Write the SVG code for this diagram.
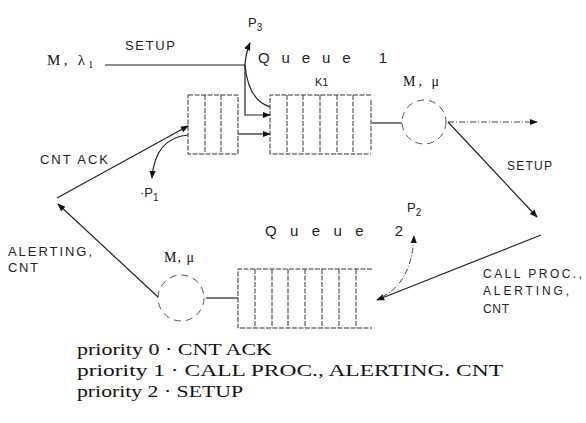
<svg xmlns="http://www.w3.org/2000/svg" width="586" height="423" viewBox="0 0 586 423">
<style>
.s{font-family:"Liberation Sans",Arial,sans-serif;fill:#222}
.r{font-family:"Liberation Serif","Times New Roman",serif;fill:#111}
.ln{stroke:#222;stroke-width:1.2;fill:none}
.dl{stroke:#444;stroke-width:1;fill:none;stroke-dasharray:6 2 1 2}
.q{stroke:#333;stroke-width:1;fill:none;stroke-dasharray:5 1.5}
.c{stroke:#555;stroke-width:1;fill:none;stroke-dasharray:7 5}
</style>
<defs>
<marker id="ah" viewBox="0 0 10 10" refX="9" refY="5" markerWidth="8" markerHeight="8" markerUnits="userSpaceOnUse" orient="auto">
<path d="M0,1 L10,5 L0,9 Z" fill="#111"/>
</marker>
</defs>

<g id="queue1a">
<rect class="q" x="188" y="95" width="50" height="59"/>
<line class="q" x1="205" y1="95" x2="205" y2="154"/>
<line class="q" x1="221" y1="95" x2="221" y2="154"/>
</g>

<g id="queue1">
<path class="q" d="M371,95 H270 V154 H371"/>
<line class="q" x1="371" y1="100" x2="371" y2="150"/>
<line class="q" x1="287" y1="95" x2="287" y2="154"/>
<line class="q" x1="303" y1="95" x2="303" y2="154"/>
<line class="q" x1="320" y1="95" x2="320" y2="154"/>
<line class="q" x1="337" y1="95" x2="337" y2="154"/>
<line class="q" x1="353" y1="95" x2="353" y2="154"/>
<text class="s" x="315" y="86" font-size="11">K1</text>
<text class="s" x="258" y="63" font-size="15" textLength="129" lengthAdjust="spacing">Queue 1</text>
</g>

<g id="server1">
<circle class="c" cx="424" cy="122" r="22"/>
<text class="r" x="403" y="86" font-size="14" textLength="36" lengthAdjust="spacing">M, μ</text>
</g>

<g id="queue2">
<path class="q" d="M372,269 H238 V328 H372"/>
<line class="q" x1="255" y1="269" x2="255" y2="328"/>
<line class="q" x1="272" y1="269" x2="272" y2="328"/>
<line class="q" x1="288" y1="269" x2="288" y2="328"/>
<line class="q" x1="305" y1="269" x2="305" y2="328"/>
<line class="q" x1="322" y1="269" x2="322" y2="328"/>
<line class="q" x1="339" y1="269" x2="339" y2="328"/>
<line class="q" x1="356" y1="269" x2="356" y2="328"/>
<text class="s" x="265" y="236" font-size="15" textLength="138" lengthAdjust="spacing">Queue 2</text>
</g>

<g id="server2">
<circle class="c" cx="181" cy="298" r="23"/>
<text class="r" x="164" y="262" font-size="14" textLength="30" lengthAdjust="spacing">M, μ</text>
</g>

<g id="source">
<text class="r" x="47" y="65" font-size="15"><tspan textLength="38" lengthAdjust="spacing">M, λ</tspan><tspan font-size="10" dy="3">1</tspan></text>
</g>

<g id="connectors">
<line class="ln" x1="105" y1="65" x2="245" y2="65"/>
<path class="ln" d="M245,65 Q246,52 250,43" marker-end="url(#ah)"/>
<path class="ln" d="M245,65 Q248,100 270,107"/>
<path class="ln" d="M245,65 V115 H270" marker-end="url(#ah)"/>
<line class="ln" x1="238" y1="134" x2="270" y2="134" marker-end="url(#ah)"/>
<line class="ln" x1="57" y1="198" x2="188" y2="126" marker-end="url(#ah)"/>
<path class="ln" d="M188,135 Q155,138 152,178" marker-end="url(#ah)"/>
<line class="ln" x1="372" y1="123" x2="402" y2="123"/>
<line class="dl" x1="448" y1="122" x2="537" y2="122" marker-end="url(#ah)"/>
<line class="ln" x1="448" y1="122" x2="537" y2="217" stroke-width="0.9" marker-end="url(#ah)"/>
<line class="ln" x1="541" y1="235" x2="377" y2="300" marker-end="url(#ah)"/>
<path class="dl" d="M382,297 Q412,282 414,236" marker-end="url(#ah)"/>
<line class="ln" x1="206" y1="298" x2="238" y2="298"/>
<line class="ln" x1="158" y1="297" x2="58" y2="204" marker-end="url(#ah)"/>
</g>

<g id="labels">
<text class="s" x="125" y="50" font-size="13" textLength="50" lengthAdjust="spacing">SETUP</text>
<text class="s" x="248" y="27" font-size="13">P<tspan font-size="10" dy="4">3</tspan></text>
<text class="s" x="140" y="197" font-size="13">·P<tspan font-size="10" dy="4">1</tspan></text>
<text class="s" x="407" y="212" font-size="13">P<tspan font-size="10" dy="4">2</tspan></text>
<text class="s" x="40" y="164" font-size="13" textLength="68" lengthAdjust="spacing">CNT ACK</text>
<text class="s" x="8" y="256" font-size="13" textLength="84" lengthAdjust="spacing">ALERTING,</text>
<text class="s" x="8" y="272" font-size="13" textLength="30" lengthAdjust="spacing">CNT</text>
<text class="s" x="507" y="170" font-size="12" textLength="45" lengthAdjust="spacing">SETUP</text>
<text class="s" x="483" y="278" font-size="12" textLength="99" lengthAdjust="spacing">CALL PROC.,</text>
<text class="s" x="483" y="295" font-size="12" textLength="86" lengthAdjust="spacing">ALERTING,</text>
<text class="s" x="483" y="313" font-size="12" textLength="26" lengthAdjust="spacing">CNT</text>
</g>

<g id="legend">
<text class="r" x="77" y="355" font-size="17" textLength="195" lengthAdjust="spacingAndGlyphs">priority 0 · CNT ACK</text>
<text class="r" x="77" y="376" font-size="17" textLength="426" lengthAdjust="spacingAndGlyphs">priority 1 · CALL PROC.,  ALERTING. CNT</text>
<text class="r" x="77" y="397" font-size="17" textLength="166" lengthAdjust="spacingAndGlyphs">priority 2 · SETUP</text>
</g>
</svg>
